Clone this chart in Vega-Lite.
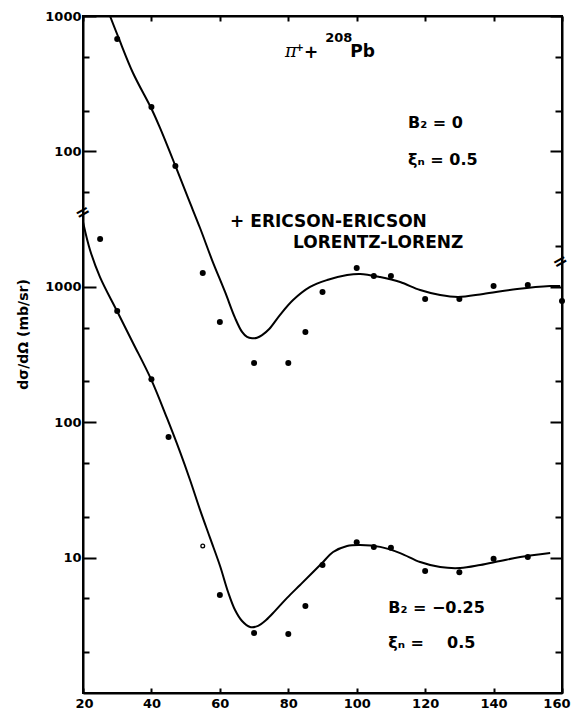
{
  "$schema": "https://vega.github.io/schema/vega-lite/v6.json",
  "width": 479,
  "height": 677,
  "autosize": {"type": "none"},
  "padding": {"left": 83, "top": 16, "right": 11, "bottom": 18},
  "background": "white",
  "config": {
    "view": {"stroke": "black", "strokeWidth": 2},
    "axis": {
      "grid": false,
      "domainColor": "black",
      "domainWidth": 2,
      "tickColor": "black",
      "tickWidth": 2,
      "labelColor": "black",
      "labelFont": "DejaVu Sans",
      "labelFontWeight": "bold",
      "labelFontSize": 13,
      "labelFlush": false,
      "labelOverlap": false,
      "titleColor": "black"
    },
    "text": {"font": "DejaVu Sans", "fontWeight": "bold", "color": "black"}
  },
  "datasets": {
    "curves": [
      {"model": "B2=0", "angle": 27.89, "value": 100000},
      {"model": "B2=0", "angle": 30.53, "value": 67640},
      {"model": "B2=0", "angle": 34.62, "value": 37930},
      {"model": "B2=0", "angle": 40.18, "value": 20230},
      {"model": "B2=0", "angle": 42.51, "value": 14900},
      {"model": "B2=0", "angle": 46.9, "value": 7940},
      {"model": "B2=0", "angle": 50.7, "value": 4530},
      {"model": "B2=0", "angle": 54.21, "value": 2718},
      {"model": "B2=0", "angle": 57.72, "value": 1577},
      {"model": "B2=0", "angle": 61.52, "value": 916},
      {"model": "B2=0", "angle": 64.44, "value": 589},
      {"model": "B2=0", "angle": 66.49, "value": 464},
      {"model": "B2=0", "angle": 67.95, "value": 426},
      {"model": "B2=0", "angle": 69.42, "value": 417},
      {"model": "B2=0", "angle": 70.88, "value": 421},
      {"model": "B2=0", "angle": 72.34, "value": 440},
      {"model": "B2=0", "angle": 74.5, "value": 490},
      {"model": "B2=0", "angle": 77.6, "value": 620},
      {"model": "B2=0", "angle": 81.4, "value": 798},
      {"model": "B2=0", "angle": 86.37, "value": 998},
      {"model": "B2=0", "angle": 91.35, "value": 1122},
      {"model": "B2=0", "angle": 97.19, "value": 1222},
      {"model": "B2=0", "angle": 100.99, "value": 1245},
      {"model": "B2=0", "angle": 106.84, "value": 1180},
      {"model": "B2=0", "angle": 112.69, "value": 1084},
      {"model": "B2=0", "angle": 118.54, "value": 946},
      {"model": "B2=0", "angle": 124.39, "value": 869},
      {"model": "B2=0", "angle": 129.65, "value": 841},
      {"model": "B2=0", "angle": 136.96, "value": 885},
      {"model": "B2=0", "angle": 146.9, "value": 964},
      {"model": "B2=0", "angle": 156.55, "value": 1014},
      {"model": "B2=0", "angle": 159.47, "value": 1014},
      {"model": "B2=-0.25", "angle": 20.0, "value": 3013},
      {"model": "B2=-0.25", "angle": 22.05, "value": 1871},
      {"model": "B2=-0.25", "angle": 24.97, "value": 1180},
      {"model": "B2=-0.25", "angle": 29.94, "value": 662},
      {"model": "B2=-0.25", "angle": 34.62, "value": 385},
      {"model": "B2=-0.25", "angle": 39.88, "value": 208},
      {"model": "B2=-0.25", "angle": 44.56, "value": 107},
      {"model": "B2=-0.25", "angle": 48.36, "value": 60.3},
      {"model": "B2=-0.25", "angle": 51.29, "value": 37.4},
      {"model": "B2=-0.25", "angle": 54.21, "value": 22.5},
      {"model": "B2=-0.25", "angle": 57.13, "value": 13.97},
      {"model": "B2=-0.25", "angle": 60.06, "value": 8.67},
      {"model": "B2=-0.25", "angle": 62.4, "value": 5.57},
      {"model": "B2=-0.25", "angle": 64.44, "value": 4.1},
      {"model": "B2=-0.25", "angle": 66.49, "value": 3.4},
      {"model": "B2=-0.25", "angle": 68.83, "value": 3.07},
      {"model": "B2=-0.25", "angle": 71.17, "value": 3.13},
      {"model": "B2=-0.25", "angle": 73.51, "value": 3.46},
      {"model": "B2=-0.25", "angle": 76.14, "value": 4.04},
      {"model": "B2=-0.25", "angle": 79.65, "value": 5.04},
      {"model": "B2=-0.25", "angle": 83.45, "value": 6.28},
      {"model": "B2=-0.25", "angle": 86.96, "value": 7.7},
      {"model": "B2=-0.25", "angle": 89.88, "value": 9.12},
      {"model": "B2=-0.25", "angle": 93.1, "value": 11.0},
      {"model": "B2=-0.25", "angle": 97.19, "value": 12.2},
      {"model": "B2=-0.25", "angle": 100.99, "value": 12.4},
      {"model": "B2=-0.25", "angle": 106.84, "value": 12.0},
      {"model": "B2=-0.25", "angle": 112.69, "value": 10.8},
      {"model": "B2=-0.25", "angle": 118.54, "value": 9.27},
      {"model": "B2=-0.25", "angle": 124.39, "value": 8.51},
      {"model": "B2=-0.25", "angle": 130.23, "value": 8.37},
      {"model": "B2=-0.25", "angle": 136.08, "value": 8.81},
      {"model": "B2=-0.25", "angle": 141.93, "value": 9.44},
      {"model": "B2=-0.25", "angle": 147.78, "value": 10.1},
      {"model": "B2=-0.25", "angle": 156.55, "value": 10.8}
    ],
    "points": [
      {"set": "B2=0", "angle": 30, "value": 67600, "kind": "filled"},
      {"set": "B2=0", "angle": 40, "value": 21300, "kind": "filled"},
      {"set": "B2=0", "angle": 47, "value": 7800, "kind": "filled"},
      {"set": "B2=0", "angle": 55, "value": 1265, "kind": "filled"},
      {"set": "B2=0", "angle": 60, "value": 550, "kind": "filled"},
      {"set": "B2=0", "angle": 70, "value": 274, "kind": "filled"},
      {"set": "B2=0", "angle": 80, "value": 274, "kind": "filled"},
      {"set": "B2=0", "angle": 85, "value": 463, "kind": "filled"},
      {"set": "B2=0", "angle": 90, "value": 917, "kind": "filled"},
      {"set": "B2=0", "angle": 100, "value": 1377, "kind": "filled"},
      {"set": "B2=0", "angle": 105, "value": 1202, "kind": "filled"},
      {"set": "B2=0", "angle": 110, "value": 1202, "kind": "filled"},
      {"set": "B2=0", "angle": 120, "value": 813, "kind": "filled"},
      {"set": "B2=0", "angle": 130, "value": 813, "kind": "filled"},
      {"set": "B2=0", "angle": 140, "value": 1014, "kind": "filled"},
      {"set": "B2=0", "angle": 150, "value": 1031, "kind": "filled"},
      {"set": "B2=0", "angle": 160, "value": 785, "kind": "filled"},
      {"set": "B2=-0.25", "angle": 25, "value": 2255, "kind": "filled"},
      {"set": "B2=-0.25", "angle": 30, "value": 662, "kind": "filled"},
      {"set": "B2=-0.25", "angle": 40, "value": 208, "kind": "filled"},
      {"set": "B2=-0.25", "angle": 45, "value": 77.8, "kind": "filled"},
      {"set": "B2=-0.25", "angle": 55, "value": 12.2, "kind": "open"},
      {"set": "B2=-0.25", "angle": 60, "value": 5.3, "kind": "filled"},
      {"set": "B2=-0.25", "angle": 70, "value": 2.77, "kind": "filled"},
      {"set": "B2=-0.25", "angle": 80, "value": 2.73, "kind": "filled"},
      {"set": "B2=-0.25", "angle": 85, "value": 4.4, "kind": "filled"},
      {"set": "B2=-0.25", "angle": 90, "value": 8.8, "kind": "filled"},
      {"set": "B2=-0.25", "angle": 100, "value": 13.0, "kind": "filled"},
      {"set": "B2=-0.25", "angle": 105, "value": 12.0, "kind": "filled"},
      {"set": "B2=-0.25", "angle": 110, "value": 11.8, "kind": "filled"},
      {"set": "B2=-0.25", "angle": 120, "value": 7.96, "kind": "filled"},
      {"set": "B2=-0.25", "angle": 130, "value": 7.8, "kind": "filled"},
      {"set": "B2=-0.25", "angle": 140, "value": 9.8, "kind": "filled"},
      {"set": "B2=-0.25", "angle": 150, "value": 10.1, "kind": "filled"}
    ],
    "text17": [
      {"angle": 63.0, "value": 2767, "text": "+ ERICSON-ERICSON"},
      {"angle": 81.4, "value": 1936, "text": "LORENTZ-LORENZ"},
      {"angle": 84.6, "value": 48980, "text": "+"},
      {"angle": 98.1, "value": 49770, "text": "Pb"}
    ],
    "text16": [
      {"angle": 115.0, "value": 14890, "text": "B₂ = 0"},
      {"angle": 115.0, "value": 7943, "text": "ξₙ = 0.5"},
      {"angle": 109.2, "value": 3.9, "text": "B₂ = −0.25"},
      {"angle": 109.2, "value": 2.15, "text": "ξₙ ="},
      {"angle": 126.4, "value": 2.15, "text": "0.5"}
    ],
    "textsup": [
      {"angle": 90.8, "value": 64270, "text": "208"}
    ],
    "textsup2": [
      {"angle": 82.1, "value": 55210, "text": "+"}
    ],
    "textpi": [
      {"angle": 79.06, "value": 49770, "text": "π"}
    ],
    "breaks": [
      {"angle": 20, "value": 3510, "text": "="},
      {"angle": 159.6, "value": 1524, "text": "="}
    ]
  },
  "resolve": {"axis": {"x": "independent", "y": "independent"}},
  "layer": [
    {
      "data": {"name": "curves"},
      "mark": {"type": "line", "color": "black", "strokeWidth": 2, "interpolate": "catmull-rom", "clip": true},
      "encoding": {
        "x": {
          "field": "angle", "type": "quantitative",
          "scale": {"domain": [20, 160], "nice": false, "zero": false},
          "axis": {"orient": "bottom", "values": [20, 40, 60, 80, 100, 120, 140, 160], "tickSize": -5, "labelPadding": 9, "labelFlush": true, "labelFlushOffset": 8, "title": null}
        },
        "y": {
          "field": "value", "type": "quantitative",
          "scale": {"type": "log", "domain": [1, 100000], "nice": false},
          "axis": {
            "orient": "left",
            "values": [100000, 50000, 20000, 10000, 5000, 1000, 500, 200, 100, 50, 20, 10, 5, 2],
            "labelExpr": "datum.value == 100000 ? '1000' : datum.value == 10000 ? '100' : datum.value == 1000 ? '1000' : datum.value == 100 ? '100' : datum.value == 10 ? '10' : ''",
            "tickSize": {"condition": {"test": "indexof([10, 100, 1000, 10000, 100000], datum.value) >= 0", "value": -13}, "value": -6},
            "labelPadding": 15,
            "title": "dσ/dΩ (mb/sr)",
            "titleFont": "DejaVu Sans",
            "titleFontWeight": "bold",
            "titleFontSize": 14,
            "titleAngle": -90,
            "titleX": -56,
            "titleY": 318,
            "titleAlign": "center",
            "titleBaseline": "alphabetic"
          }
        },
        "detail": {"field": "model"}
      }
    },
    {
      "data": {"name": "points"},
      "transform": [{"filter": "datum.kind == 'filled'"}],
      "mark": {"type": "point", "filled": true, "color": "black", "size": 36, "opacity": 1},
      "encoding": {
        "x": {
          "field": "angle", "type": "quantitative",
          "axis": {"orient": "top", "values": [20, 40, 60, 80, 100, 120, 140, 160], "tickSize": -5, "labels": false, "title": null}
        },
        "y": {
          "field": "value", "type": "quantitative",
          "axis": {
            "orient": "right",
            "values": [100000, 50000, 20000, 10000, 5000, 2000, 1000, 500, 200, 100, 50, 20, 10, 5, 2],
            "tickSize": {"condition": {"test": "indexof([10, 100, 1000, 10000, 100000], datum.value) >= 0", "value": -12}, "value": -7},
            "labels": false,
            "title": null
          }
        }
      }
    },
    {
      "data": {"name": "points"},
      "transform": [{"filter": "datum.kind == 'open'"}],
      "mark": {"type": "point", "filled": false, "color": "black", "size": 14, "strokeWidth": 1.3, "opacity": 1},
      "encoding": {
        "x": {"field": "angle", "type": "quantitative", "axis": null},
        "y": {"field": "value", "type": "quantitative", "axis": null}
      }
    },
    {
      "data": {"name": "text17"},
      "mark": {"type": "text", "fontSize": 17, "align": "left", "baseline": "alphabetic"},
      "encoding": {
        "x": {"field": "angle", "type": "quantitative", "axis": null},
        "y": {"field": "value", "type": "quantitative", "axis": null},
        "text": {"field": "text"}
      }
    },
    {
      "data": {"name": "text16"},
      "mark": {"type": "text", "fontSize": 16, "align": "left", "baseline": "alphabetic"},
      "encoding": {
        "x": {"field": "angle", "type": "quantitative", "axis": null},
        "y": {"field": "value", "type": "quantitative", "axis": null},
        "text": {"field": "text"}
      }
    },
    {
      "data": {"name": "textsup"},
      "mark": {"type": "text", "fontSize": 13, "align": "left", "baseline": "alphabetic"},
      "encoding": {
        "x": {"field": "angle", "type": "quantitative", "axis": null},
        "y": {"field": "value", "type": "quantitative", "axis": null},
        "text": {"field": "text"}
      }
    },
    {
      "data": {"name": "textsup2"},
      "mark": {"type": "text", "fontSize": 10, "align": "left", "baseline": "alphabetic"},
      "encoding": {
        "x": {"field": "angle", "type": "quantitative", "axis": null},
        "y": {"field": "value", "type": "quantitative", "axis": null},
        "text": {"field": "text"}
      }
    },
    {
      "data": {"name": "textpi"},
      "mark": {"type": "text", "fontSize": 18, "fontStyle": "italic", "fontWeight": "normal", "font": "DejaVu Serif", "align": "left", "baseline": "alphabetic"},
      "encoding": {
        "x": {"field": "angle", "type": "quantitative", "axis": null},
        "y": {"field": "value", "type": "quantitative", "axis": null},
        "text": {"field": "text"}
      }
    },
    {
      "data": {"name": "breaks"},
      "mark": {"type": "text", "fontSize": 18, "angle": -30, "align": "center", "baseline": "middle"},
      "encoding": {
        "x": {"field": "angle", "type": "quantitative", "axis": null},
        "y": {"field": "value", "type": "quantitative", "axis": null},
        "text": {"field": "text"}
      }
    }
  ]
}
